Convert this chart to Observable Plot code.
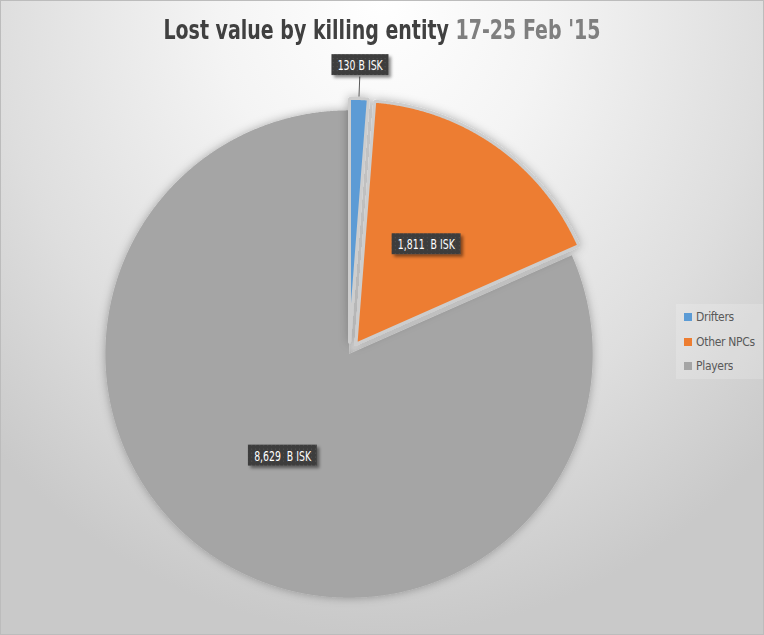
<!DOCTYPE html>
<html>
<head>
<meta charset="utf-8">
<script src="https://cdn.jsdelivr.net/npm/d3@7"></script>
<script src="https://cdn.jsdelivr.net/npm/@observablehq/plot@0.6"></script>
<style>
  html, body { margin: 0; padding: 0; background: #ffffff; }
  #chart {
    position: relative; width: 764px; height: 635px; box-sizing: border-box;
    border: 1px solid #bcbcbc; overflow: hidden;
    background: radial-gradient(ellipse 72% 100% at 50% 0%, #ffffff 0%, #f4f4f4 30%, #dedede 70%, #c9c9c9 100%);
    font-family: "DejaVu Sans Condensed", "DejaVu Sans", sans-serif; font-stretch: condensed;
  }
  #title {
    position: absolute; left: -1px; top: 14px; width: 764px; text-align: center;
    font-size: 26px; line-height: 30px; font-weight: bold; white-space: nowrap;
  }
  #title .inner { display: inline-block; transform-origin: 50% 50%; }
  #title .t1 { color: #404040; }
  #title .t2 { color: #7f7f7f; }
  #plot { position: absolute; left: -1px; top: -1px; }
  #legend {
    position: absolute; left: 675px; top: 303px; width: 87px; height: 75px;
    background: rgba(255,255,255,0.18); box-sizing: border-box; padding: 1px 0 0 8px;
  }
  #legend .lg-swatches { margin: 0 !important; }
  #legend .lg-swatch { padding-bottom: 0 !important; height: 24.5px; display: flex; align-items: center; }
  #legend .lg-swatch svg { margin-right: 4px !important; }
  #legend .lg-swatch-label { color: #595959; font-size: 12px; letter-spacing: -0.3px; }
</style>
</head>
<body>
<div id="chart">
  <div id="plot"></div>
  <div id="title"><span class="inner"><span class="t1">Lost value by killing entity </span><span class="t2">17-25 Feb '15</span></span></div>
  <div id="legend"></div>
</div>
<script>
// ---- data ----
const categories = ["Drifters", "Other NPCs", "Players"];
const values = [130, 1811, 8629];
const labels = ["130 B ISK", "1,811\u00a0 B ISK", "8,629\u00a0 B ISK"];
const colors = ["#5b9bd5", "#ed7d31", "#a5a5a5"];

// ---- layout constants ----
const W = 764, H = 635;
const cx = 349, cy = 354, R = 244;
const explodePx = [12, 12, 0];

const rows = categories.map((c, i) => ({key: c, value: values[i], label: labels[i], idx: i}));
const arcs = d3.pie().sort(null).value(d => d.value)(rows);

// build slice outlines
function outline(i) {
  const a = arcs[i];
  const mid = (a.startAngle + a.endAngle) / 2;
  const ox = explodePx[i] * Math.sin(mid), oy = explodePx[i] * Math.cos(mid);
  const key = a.data.key;
  const out = [{key, x: ox, y: oy}];
  const n = Math.max(4, Math.ceil((a.endAngle - a.startAngle) / 0.005));
  for (let k = 0; k <= n; k++) {
    const t = a.startAngle + (a.endAngle - a.startAngle) * k / n;
    out.push({key, x: ox + R * Math.sin(t), y: oy + R * Math.cos(t)});
  }
  out.push({key, x: ox, y: oy});
  return out;
}
const basePts = outline(2);
const explodedPts = [...outline(0), ...outline(1)];

// label positions
const total = d3.sum(values);
const labelRows = arcs.map((a, i) => {
  const mid = (a.startAngle + a.endAngle) / 2;
  const ox = explodePx[i] * Math.sin(mid), oy = explodePx[i] * Math.cos(mid);
  if (a.value / total < 0.05) {
    const r = 289;
    return {text: a.data.label, x: r * Math.sin(mid), y: r * Math.cos(mid), outside: true, mid};
  }
  return {text: a.data.label, x: ox + 0.5 * R * Math.sin(mid), y: oy + 0.5 * R * Math.cos(mid), outside: false, mid};
});
const leaders = labelRows.filter(d => d.outside).map(d => ({
  x1: (R + 14) * Math.sin(d.mid), y1: (R + 14) * Math.cos(d.mid),
  x2: 278 * Math.sin(d.mid), y2: 278 * Math.cos(d.mid)
}));

const plot = Plot.plot({
  width: W, height: H,
  marginTop: 0, marginRight: 0, marginBottom: 0, marginLeft: 0,
  style: {background: "transparent", overflow: "visible"},
  x: {domain: [-cx, W - cx], axis: null},
  y: {domain: [-(H - cy), cy], axis: null},
  color: {domain: categories, range: colors},
  marks: [
    Plot.line(basePts, {x: "x", y: "y", z: "key", fill: "key", stroke: "none", curve: "linear"}),
    Plot.line(explodedPts, {x: "x", y: "y", z: "key", fill: "key", stroke: "#cdcdcd", strokeWidth: 3, strokeLinejoin: "miter", curve: "linear"}),
    Plot.link(leaders, {x1: "x1", y1: "y1", x2: "x2", y2: "y2", stroke: "#595959", strokeWidth: 1}),
    Plot.text(labelRows, {x: "x", y: "y", text: "text", fill: "#ffffff", fontSize: 14,
      fontFamily: "DejaVu Sans Condensed, DejaVu Sans, sans-serif"})
  ]
});
document.getElementById("plot").appendChild(plot);

// ---- decorations: shadows, label boxes ----
const svg = d3.select(plot);
const defs = svg.insert("defs", ":first-child");
const f1 = defs.append("filter").attr("id", "pieShadow").attr("x", "-20%").attr("y", "-20%").attr("width", "140%").attr("height", "140%");
f1.append("feDropShadow").attr("dx", 0).attr("dy", 0).attr("stdDeviation", 5).attr("flood-color", "#000").attr("flood-opacity", 0.3);
const f2 = defs.append("filter").attr("id", "boxShadow").attr("x", "-30%").attr("y", "-50%").attr("width", "160%").attr("height", "200%");
f2.append("feDropShadow").attr("dx", 2.5).attr("dy", 2.5).attr("stdDeviation", 1.5).attr("flood-color", "#000").attr("flood-opacity", 0.45);
const pat = defs.append("pattern").attr("id", "dots").attr("width", 4).attr("height", 4).attr("patternUnits", "userSpaceOnUse");
pat.append("rect").attr("width", 4).attr("height", 4).attr("fill", "#3d3d3d");
pat.append("rect").attr("x", 1).attr("y", 1).attr("width", 1).attr("height", 1).attr("fill", "#545454");

svg.selectAll('g[aria-label="line"]').attr("filter", "url(#pieShadow)");

const textG = plot.querySelector('g[aria-label="text"]');
const texts = Array.from(textG.querySelectorAll("text"));
texts.forEach(t => t.style.whiteSpace = "pre");
const widths = texts.map(t => t.getComputedTextLength());
const kComp = 57 / widths[2];
const boxG = svg.insert("g", () => textG);
texts.forEach((t, i) => {
  const w = widths[i] * kComp;
  t.setAttribute("textLength", w);
  t.setAttribute("lengthAdjust", "spacingAndGlyphs");
  const b = t.getBBox();
  const xc = b.x + b.width / 2;
  const yc = b.y + b.height / 2;
  const tf = t.getAttribute("transform");
  boxG.append("rect")
    .attr("transform", tf)
    .attr("x", xc - w / 2 - 6).attr("width", w + 12)
    .attr("y", yc - 10.5).attr("height", 21)
    .attr("fill", "url(#dots)").attr("filter", "url(#boxShadow)");
});

// ---- legend ----
const legend = Plot.legend({
  color: {domain: categories, range: colors},
  legend: "swatches", columns: 1, swatchSize: 8, className: "lg",
  style: {fontFamily: "DejaVu Sans Condensed, DejaVu Sans, sans-serif"}
});
document.getElementById("legend").appendChild(legend);

// ---- title width fit ----
const inner = document.querySelector("#title .inner");
const tw = inner.getBoundingClientRect().width;
inner.style.transform = `scaleX(${437 / tw})`;
</script>
</body>
</html>
